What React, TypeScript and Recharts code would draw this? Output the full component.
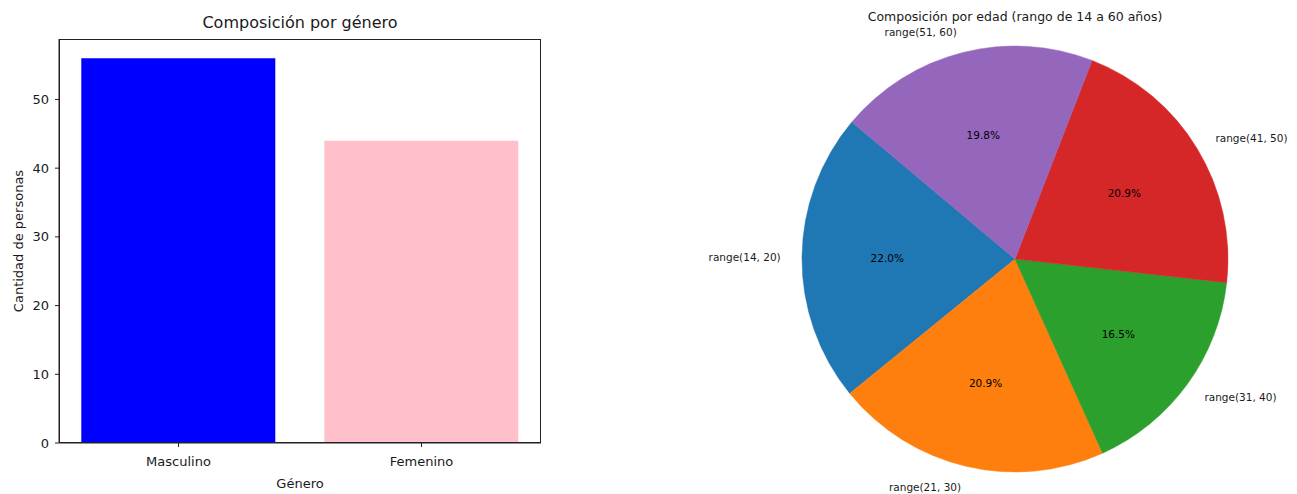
import { BarChart, Bar, XAxis, YAxis, Cell, Label, PieChart, Pie } from "recharts";

const genders = ["Masculino", "Femenino"];
const genderCounts = [56, 44];
const genderColors = ["#0000ff", "#ffc0cb"];
const yTicks = [0, 10, 20, 30, 40, 50];

const ageRanges = ["range(14, 20)", "range(21, 30)", "range(31, 40)", "range(41, 50)", "range(51, 60)"];
const ageCounts = [20, 19, 15, 19, 18];
const ageColors = ["#1f77b4", "#ff7f0e", "#2ca02c", "#d62728", "#9467bd"];

const FONT = "DejaVu Sans, sans-serif";
const TXT = "#1a1a1a";
const RADIAN = Math.PI / 180;

const barData = genders.map((g, i) => ({ name: g, value: genderCounts[i] }));
const total = ageCounts.reduce((s, v) => s + v, 0);
const pieData = ageRanges.map((r, i) => ({ name: r, value: ageCounts[i] }));

const renderPieLabel = ({ cx, cy, midAngle, outerRadius, name, value }: any) => {
  const cos = Math.cos(-midAngle * RADIAN);
  const sin = Math.sin(-midAngle * RADIAN);
  const ox = cx + outerRadius * 1.1 * cos;
  const oy = cy + outerRadius * 1.1 * sin;
  const ix = cx + outerRadius * 0.6 * cos;
  const iy = cy + outerRadius * 0.6 * sin;
  const pct = ((value / total) * 100).toFixed(1) + "%";
  return (
    <g>
      <text x={ox} y={oy} textAnchor={cos < 0 ? "end" : "start"} dominantBaseline="central" fontSize={10.5} fontFamily={FONT} fill={TXT}>
        {name}
      </text>
      <text x={ix} y={iy} textAnchor="middle" dominantBaseline="central" fontSize={10.5} fontFamily={FONT} fill="#000">
        {pct}
      </text>
    </g>
  );
};

export default function App() {
  return (
    <div style={{ position: "absolute", left: 0, top: 0, width: 1297, height: 494, background: "#fff", fontFamily: FONT, overflow: "hidden" }}>
      <div style={{ position: "absolute", left: 59, width: 482, top: 13, textAlign: "center", fontSize: 16, color: TXT, lineHeight: "20px" }}>
        Composición por género
      </div>
      <div style={{ position: "absolute", left: 0, top: 0 }}>
        <BarChart width={560} height={494} data={barData} margin={{ top: 39, right: 19, bottom: 0, left: 0 }} barCategoryGap={24.3}>
          <XAxis
            dataKey="name"
            height={51}
            tickSize={4}
            tickMargin={10}
            padding={{ left: -2, right: -2 }}
            stroke="#222"
            tick={{ fill: TXT, fontSize: 13, fontFamily: FONT }}
          >
            <Label value="Género" position="insideBottom" offset={6} fill={TXT} fontSize={13} fontFamily={FONT} />
          </XAxis>
          <YAxis
            width={59}
            domain={[0, 58.8]}
            ticks={yTicks}
            tickSize={4}
            tickMargin={6}
            stroke="#222"
            tick={{ fill: TXT, fontSize: 13, fontFamily: FONT }}
          >
            <Label
              content={({ viewBox }: any) => {
                const x = viewBox.x + 18;
                const y = viewBox.y + viewBox.height / 2;
                return (
                  <text x={x} y={y} transform={`rotate(-90 ${x} ${y})`} textAnchor="middle" dominantBaseline="central" fontSize={13} fontFamily={FONT} fill={TXT}>
                    Cantidad de personas
                  </text>
                );
              }}
            />
          </YAxis>
          <Bar dataKey="value" isAnimationActive={false}>
            {barData.map((d, i) => (
              <Cell key={d.name} fill={genderColors[i]} />
            ))}
          </Bar>
        </BarChart>
      </div>
      <div style={{ position: "absolute", left: 59, top: 39, width: 482, height: 404, boxSizing: "border-box", border: "1px solid #222", pointerEvents: "none" }} />
      <div style={{ position: "absolute", left: 1015, top: 9, fontSize: 12.5, color: TXT, lineHeight: "16px", transform: "translateX(-50%)", whiteSpace: "nowrap" }}>
        Composición por edad (rango de 14 a 60 años)
      </div>
      <div style={{ position: "absolute", left: 690, top: 0 }}>
        <PieChart width={607} height={494} margin={{ top: 0, right: 0, bottom: 0, left: 0 }}>
          <Pie
            data={pieData}
            dataKey="value"
            nameKey="name"
            cx={325}
            cy={259}
            outerRadius={213}
            startAngle={140}
            endAngle={500}
            label={renderPieLabel}
            labelLine={false}
            isAnimationActive={false}
          >
            {pieData.map((d, i) => (
              <Cell key={d.name} fill={ageColors[i]} stroke={ageColors[i]} strokeWidth={0.5} />
            ))}
          </Pie>
        </PieChart>
      </div>
    </div>
  );
}
